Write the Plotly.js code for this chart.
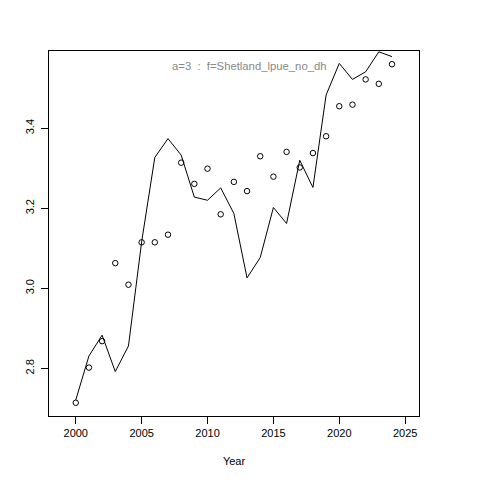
<!DOCTYPE html>
<html>
<head>
<meta charset="utf-8">
<script src="https://cdn.plot.ly/plotly-3.0.1.min.js"></script>
<style>html,body{margin:0;padding:0;background:#fff;}#chart{width:480px;height:480px;}</style>
</head>
<body>
<div id="chart"></div>
<script>
var years = [2000,2001,2002,2003,2004,2005,2006,2007,2008,2009,2010,2011,2012,2013,2014,2015,2016,2017,2018,2019,2020,2021,2022,2023,2024];
var observed = [2.714,2.802,2.868,3.063,3.009,3.115,3.115,3.134,3.314,3.261,3.299,3.185,3.266,3.243,3.330,3.279,3.341,3.302,3.338,3.380,3.455,3.459,3.522,3.511,3.560];
var fitted = [2.721,2.831,2.883,2.792,2.856,3.116,3.327,3.374,3.333,3.228,3.220,3.251,3.187,3.026,3.077,3.202,3.162,3.320,3.252,3.483,3.562,3.522,3.541,3.591,3.579];
var xTicks = [2000,2005,2010,2015,2020,2025];
var yTicks = [2.8,3.0,3.2,3.4];
var yTickText = ["2.8","3.0","3.2","3.4"];
var titleText = "a=3  :  f=Shetland_lpue_no_dh";
var xLabel = "Year";

var font = {family: "Liberation Sans, Arial, sans-serif", size: 11, color: "#000"};

var traces = [
  {x: years, y: fitted, type: "scatter", mode: "lines", line: {color: "#000", width: 1}, hoverinfo: "skip"},
  {x: years, y: observed, type: "scatter", mode: "markers",
   marker: {symbol: "circle-open", size: 5.5, color: "#000", line: {width: 1, color: "#000"}}, hoverinfo: "skip"}
];

var layout = {
  width: 480, height: 480,
  margin: {l: 49, r: 61, t: 51, b: 64},
  paper_bgcolor: "#fff", plot_bgcolor: "#fff",
  showlegend: false,
  font: font,
  xaxis: {
    range: [1997.97, 2026.05], tickvals: xTicks, ticktext: xTicks.map(String),
    showgrid: false, zeroline: false, showline: true, mirror: true, linecolor: "#000", linewidth: 1,
    ticks: "outside", ticklen: 7, tickcolor: "#000", tickwidth: 1,
    tickfont: font,
    title: {text: xLabel, font: font, standoff: 19}
  },
  yaxis: {
    range: [2.681, 3.593], tickvals: yTicks, ticktext: yTickText, tickangle: -90,
    showgrid: false, zeroline: false, showline: true, mirror: true, linecolor: "#000", linewidth: 1,
    ticks: "outside", ticklen: 7, tickcolor: "#000", tickwidth: 1,
    ticklabelstandoff: 3,
    tickfont: font
  },
  annotations: [{
    text: titleText, xref: "paper", yref: "paper", x: 0.541, y: 0.959,
    xanchor: "center", yanchor: "middle", showarrow: false,
    font: {family: "Liberation Sans, Arial, sans-serif", size: 11.3, color: "#888"}
  }]
};

Plotly.newPlot("chart", traces, layout, {staticPlot: true, displayModeBar: false});
</script>
</body>
</html>
